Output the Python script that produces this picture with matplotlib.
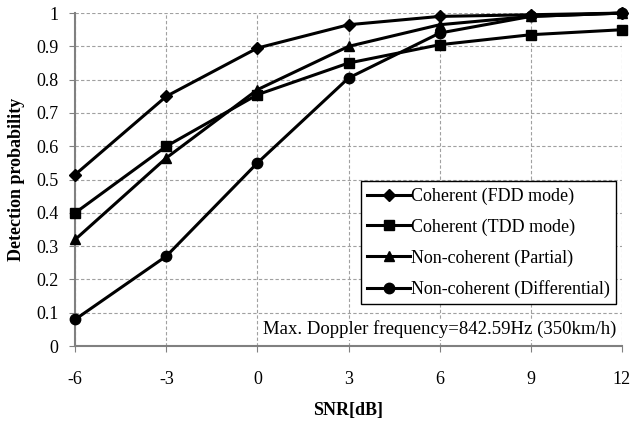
import matplotlib
matplotlib.use('Agg')
from matplotlib import pyplot as plt

snr = [-6, -3, 0, 3, 6, 9, 12]
fdd = [0.515, 0.75, 0.895, 0.965, 0.99, 0.995, 1.0]
tdd = [0.40, 0.60, 0.755, 0.85, 0.905, 0.935, 0.95]
partial = [0.32, 0.565, 0.77, 0.90, 0.965, 0.99, 1.0]
differential = [0.08, 0.27, 0.55, 0.805, 0.94, 0.99, 1.0]
labels = ['Coherent (FDD mode)', 'Coherent (TDD mode)',
          'Non-coherent (Partial)', 'Non-coherent (Differential)']

plt.rcParams['font.family'] = ['Liberation Serif', 'DejaVu Serif']

fig = plt.figure(figsize=(6.32, 4.22), dpi=100)
ax = fig.add_axes([0.119, 0.18, 0.865, 0.789])

series = [(fdd, 'D', 6), (tdd, 's', 7.5), (partial, '^', 7), (differential, 'o', 7.5)]
for (vals, m, ms), lab in zip(series, labels):
    ax.plot(snr, vals, color='black', lw=2.2, marker=m, markersize=ms,
            label=lab, clip_on=False, zorder=3)

ax.set_xlim(-6, 12)
ax.set_ylim(0, 1)
ax.set_xticks(snr)
ax.set_xticklabels([str(s) for s in snr])
yt = [i / 10 for i in range(11)]
ax.set_yticks(yt)
ax.set_yticklabels(['0'] + ['%.1f' % v for v in yt[1:-1]] + ['1'])
ax.tick_params(labelsize=13, color='#808080', direction='out', length=4)
ax.tick_params(axis='x', pad=14)
ax.tick_params(axis='y', pad=8)
ax.grid(True, color='#a0a0a0', linestyle=(0, (3, 2)), lw=0.8)
for s in ['top', 'right']:
    ax.spines[s].set_visible(False)
for s in ['left', 'bottom']:
    ax.spines[s].set_color('#808080')
    ax.spines[s].set_linewidth(1.5)

ax.set_xlabel('SNR[dB]', fontsize=13, fontweight='bold', labelpad=10)
ax.set_ylabel('Detection probability', fontsize=13, fontweight='bold', labelpad=8)

leg = ax.legend(loc='lower right', bbox_to_anchor=(0.99, 0.125), fontsize=13,
                frameon=True, fancybox=False, edgecolor='black',
                handlelength=2.4, handletextpad=0.05, borderpad=0.35,
                labelspacing=0.75, framealpha=1, borderaxespad=0)
leg.get_frame().set_linewidth(1.0)

ax.text(0.99, 0.05, 'Max. Doppler frequency=842.59Hz (350km/h)',
        transform=ax.transAxes, ha='right', va='center', fontsize=13.5,
        bbox=dict(facecolor='white', edgecolor='none', pad=1))

fig.savefig('out.png', dpi=100)
plt.close()
